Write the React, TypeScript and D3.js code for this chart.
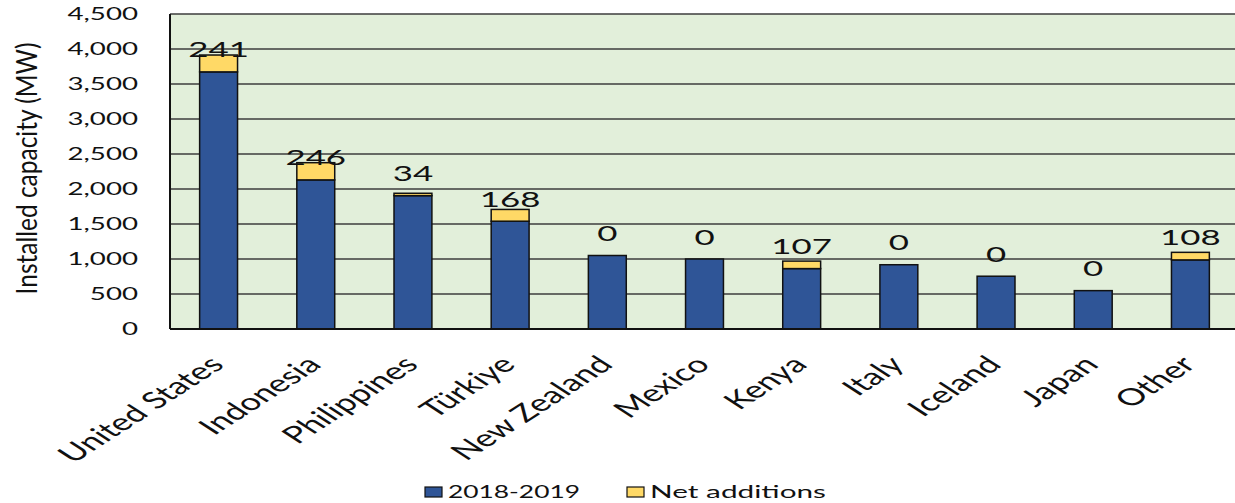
import React from "react";
import * as d3 from "d3";

const categories = ["United States", "Indonesia", "Philippines", "Türkiye", "New Zealand", "Mexico", "Kenya", "Italy", "Iceland", "Japan", "Other"];
const base2019 = [3673, 2130, 1905, 1540, 1050, 1000, 863, 918, 754, 548, 987];
const netAdditions = [241, 246, 34, 168, 0, 0, 107, 0, 0, 0, 108];
const yTicks = [0, 500, 1000, 1500, 2000, 2500, 3000, 3500, 4000, 4500];
const seriesNames = ["2018-2019", "Net additions"];

const W = 1235;
const H = 503;
const left = 170;
const right = 1239;
const top = 14;
const bottom = 329;
const BLUE = "#2F5597";
const YELLOW = "#FFD966";
const BG = "#E2EFDA";
const FONT = "Lato, 'Open Sans', sans-serif";
const SX = 1.66;

export default function App() {
  const x = d3.scaleBand<string>().domain(categories).range([left, right]).paddingInner(0.61).paddingOuter(0.305);
  const y = d3.scaleLinear().domain([0, 4500]).range([bottom, top]);
  const fmt = d3.format(",");
  const bw = x.bandwidth();

  return (
    <svg width={W} height={H} style={{ position: "absolute", left: 0, top: 0, background: "#fff" }}>
      <rect x={left} y={top} width={right - left} height={bottom - top} fill={BG} />
      {yTicks.map((t) => (
        <line key={"g" + t} x1={left} x2={right} y1={y(t)} y2={y(t)} stroke="#3c3c3c" strokeWidth={1.5} />
      ))}
      {yTicks.map((t) => (
        <text key={"t" + t} transform={`translate(138,${y(t) + 6.2}) scale(1.6,1)`} textAnchor="end" fontFamily={FONT} fontSize={17.3} fill="#111">
          {fmt(t)}
        </text>
      ))}
      {categories.map((c, i) => {
        const x0 = x(c)!;
        const b = base2019[i];
        const n = netAdditions[i];
        return (
          <g key={c}>
            <rect x={x0} y={y(b)} width={bw} height={y(0) - y(b)} fill={BLUE} stroke="#111" strokeWidth={1.5} />
            {n > 0 && (
              <rect x={x0} y={y(b + n)} width={bw} height={y(b) - y(b + n)} fill={YELLOW} stroke="#111" strokeWidth={1.5} />
            )}
          </g>
        );
      })}
      <line x1={left} x2={left} y1={top} y2={bottom} stroke="#111" strokeWidth={2} />
      <line x1={left} x2={right} y1={bottom} y2={bottom} stroke="#111" strokeWidth={2} />
      {categories.map((c, i) => {
        const cx = x(c)! + bw / 2;
        return (
          <text key={"l" + c} transform={`translate(${cx},${y(base2019[i]) - 14.5}) scale(${SX},1)`} textAnchor="middle" fontFamily={FONT} fontSize={21} fill="#111">
            {netAdditions[i]}
          </text>
        );
      })}
      {categories.map((c) => {
        const cx = x(c)! + bw / 2;
        return (
          <text key={"c" + c} transform={`translate(${cx + 7},366) scale(1.55,1) rotate(-45)`} textAnchor="end" fontFamily={FONT} fontSize={23.5} fill="#111">
            {c}
          </text>
        );
      })}
      <text transform="translate(37,168.5) rotate(-90) scale(1,1.2)" textAnchor="middle" fontFamily={FONT} fontSize={24.5} fill="#111">
        Installed capacity (MW)
      </text>
      {seriesNames.map((s, i) => {
        const lx = i === 0 ? 425 : 627;
        return (
          <g key={s}>
            <rect x={lx} y={487} width={17} height={10} fill={i === 0 ? BLUE : YELLOW} stroke="#111" strokeWidth={1.2} />
            <text transform={`translate(${lx + 23},498) scale(${i === 0 ? 1.55 : 1.75},1)`} fontFamily={FONT} fontSize={17} fill="#111">
              {s}
            </text>
          </g>
        );
      })}
    </svg>
  );
}
